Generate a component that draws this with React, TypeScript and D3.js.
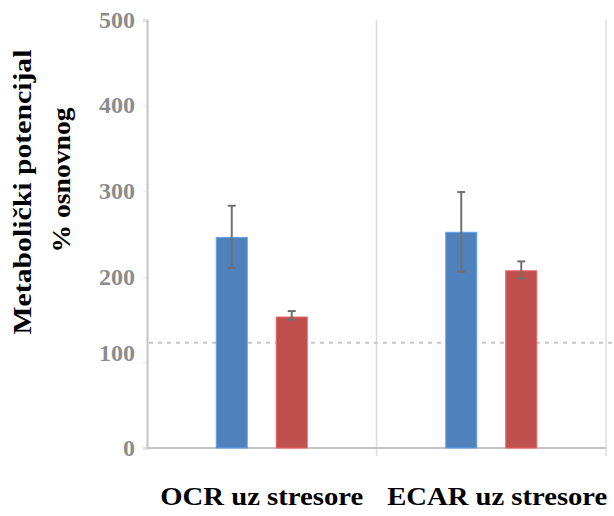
import * as d3 from 'd3';
import { useEffect, useRef } from 'react';

const categories = ['OCR uz stresore', 'ECAR uz stresore'];
const series = ['A', 'B'];
const colors = ['#4f81bd', '#c0504d'];
// means and error bar ends, per category
const valuesA = [246, 252];
const lowA = [210, 206];
const highA = [283, 299];
const valuesB = [153, 207];
const lowB = [150, 198];
const highB = [160, 218];
const baseline = 123;
const yTicks = [0, 100, 200, 300, 400, 500];

const W = 614;
const H = 516;
const margin = { left: 147, right: 8, top: 20, bottom: 68 };
const FONT = '"Liberation Serif", "Times New Roman", serif';

export default function App() {
    const ref = useRef<SVGSVGElement>(null);

    useEffect(() => {
        const svg = d3.select(ref.current!);
        svg.selectAll('*').remove();

        const x = d3
            .scaleBand()
            .domain(categories)
            .range([margin.left, W - margin.right]);
        const y = d3
            .scaleLinear()
            .domain([0, 500])
            .range([H - margin.bottom, margin.top]);

        // vertical separators
        svg.append('g')
            .selectAll('line')
            .data(categories)
            .join('line')
            .attr('x1', (d) => x(d)! + x.bandwidth())
            .attr('x2', (d) => x(d)! + x.bandwidth())
            .attr('y1', y(500))
            .attr('y2', y(0) + 8)
            .attr('stroke', '#dcdcdc')
            .attr('stroke-width', 1.5);

        const yAxis = svg
            .append('g')
            .attr('transform', `translate(${margin.left},0)`)
            .call(d3.axisLeft(y).tickValues(yTicks).tickSize(4).tickPadding(8));
        yAxis.select('.domain').attr('stroke', '#c4c4c4').attr('stroke-width', 2);
        yAxis.selectAll('.tick line').attr('stroke', '#e4e4e4');
        yAxis
            .selectAll<SVGTextElement, number>('.tick text')
            .attr('font-family', FONT)
            .attr('font-size', 24)
            .attr('font-weight', 'bold')
            .attr('fill', '#8c8c8c')
            .attr('dy', (d) => (d === 100 ? '-0.1em' : '0.3em'));

        // x axis line
        svg.append('line')
            .attr('x1', margin.left)
            .attr('x2', W - margin.right)
            .attr('y1', y(0))
            .attr('y2', y(0))
            .attr('stroke', '#c4c4c4')
            .attr('stroke-width', 2);

        // baseline dashed
        svg.append('line')
            .attr('x1', margin.left + 2)
            .attr('x2', W)
            .attr('y1', y(baseline))
            .attr('y2', y(baseline))
            .attr('stroke', '#c8c8c8')
            .attr('stroke-width', 2)
            .attr('stroke-dasharray', '4,5');

        const inner = d3.scalePoint().domain(series).range([-30, 30]);

        const rows = categories.flatMap((c, i) => [
            { c, s: 'A', v: valuesA[i], lo: lowA[i], hi: highA[i], col: colors[0] },
            { c, s: 'B', v: valuesB[i], lo: lowB[i], hi: highB[i], col: colors[1] },
        ]);

        const bw = 31;
        const cx = (d: any) => x(d.c)! + x.bandwidth() / 2 + inner(d.s)!;

        svg.append('g')
            .selectAll('rect')
            .data(rows)
            .join('rect')
            .attr('x', (d) => cx(d) - bw / 2)
            .attr('width', bw)
            .attr('y', (d) => y(d.v))
            .attr('height', (d) => y(0) - y(d.v))
            .attr('fill', (d) => d.col)
            .attr('stroke', (d) => d3.color(d.col)!.brighter(0.6).formatHex())
            .attr('stroke-width', 1);

        const err = svg.append('g').attr('stroke', '#707070').attr('stroke-width', 2);
        rows.forEach((d) => {
            const px = cx(d);
            err.append('line').attr('x1', px).attr('x2', px).attr('y1', y(d.hi)).attr('y2', y(d.lo));
            err.append('line').attr('x1', px - 4).attr('x2', px + 4).attr('y1', y(d.hi)).attr('y2', y(d.hi));
            err.append('line').attr('x1', px - 4).attr('x2', px + 4).attr('y1', y(d.lo)).attr('y2', y(d.lo));
        });

        // category labels
        const labelLen = [203, 220];
        svg.append('g')
            .selectAll('text')
            .data(categories)
            .join('text')
            .attr('x', (d, i) => x(d)! + x.bandwidth() / 2 + (i === 1 ? 6 : 0))
            .attr('y', 505)
            .attr('text-anchor', 'middle')
            .attr('font-family', FONT)
            .attr('font-size', 26)
            .attr('font-weight', 'bold')
            .attr('fill', '#000')
            .attr('textLength', (d, i) => labelLen[i])
            .attr('lengthAdjust', 'spacingAndGlyphs')
            .text((d) => d);

        // y title, two lines
        svg.append('text')
            .attr('transform', 'translate(31,192) rotate(-90)')
            .attr('text-anchor', 'middle')
            .attr('font-family', FONT)
            .attr('font-size', 25)
            .attr('font-weight', 'bold')
            .attr('fill', '#000')
            .attr('textLength', 285)
            .attr('lengthAdjust', 'spacingAndGlyphs')
            .text('Metabolički potencijal');
        svg.append('text')
            .attr('transform', 'translate(70,180) rotate(-90)')
            .attr('text-anchor', 'middle')
            .attr('font-family', FONT)
            .attr('font-size', 25)
            .attr('font-weight', 'bold')
            .attr('fill', '#000')
            .attr('textLength', 145)
            .attr('lengthAdjust', 'spacingAndGlyphs')
            .text('% osnovnog');
    }, []);

    return (
        <svg
            ref={ref}
            width={W}
            height={H}
            style={{ position: 'absolute', left: 0, top: 0, background: '#fff' }}
        />
    );
}
